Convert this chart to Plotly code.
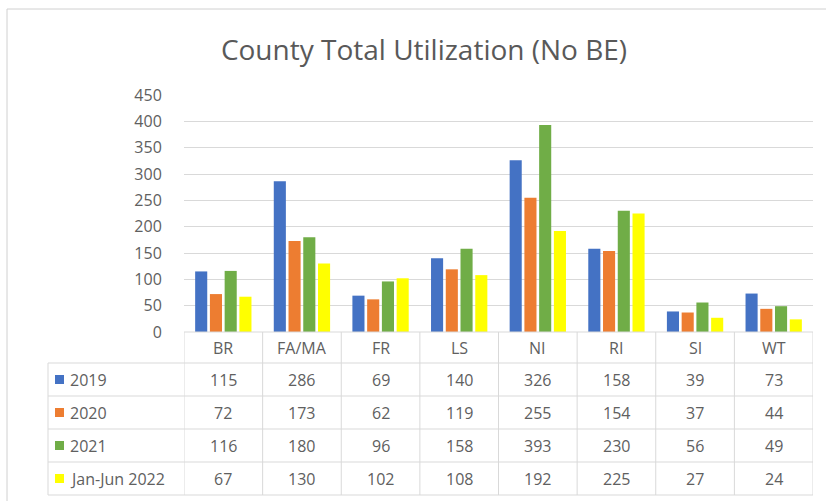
import plotly.graph_objects as go

categories = ["BR", "FA/MA", "FR", "LS", "NI", "RI", "SI", "WT"]
series_names = ["2019", "2020", "2021", "Jan-Jun 2022"]
v2019 = [115, 286, 69, 140, 326, 158, 39, 73]
v2020 = [72, 173, 62, 119, 255, 154, 37, 44]
v2021 = [116, 180, 96, 158, 393, 230, 56, 49]
v2022 = [67, 130, 102, 108, 192, 225, 27, 24]
y_ticks = [0, 50, 100, 150, 200, 250, 300, 350, 400, 450]

series_values = [v2019, v2020, v2021, v2022]
colors = ["#4472C4", "#ED7D31", "#70AD47", "#FFFF00"]

W, H = 826, 501
L, R, T, B = 184, 813, 95, 332  # plot area in pixels
FONT = "Open Sans"
GREY = "#606060"
LINE = "#d9d9d9"
FS = 16


def px(x):
    return (x - L) / (R - L)


def py(y):
    return (B - y) / (B - T)


fig = go.Figure()
for name, vals, col in zip(series_names, series_values, colors):
    fig.add_trace(go.Bar(x=categories, y=vals, name=name, marker_color=col,
                         marker_line_width=0))

shapes = []
annotations = []

# outer chart border
shapes.append(dict(type="line", xref="paper", yref="paper", x0=px(7), x1=px(826),
                   y0=py(9), y1=py(9), line=dict(color="#d0d0d0", width=1)))
shapes.append(dict(type="line", xref="paper", yref="paper", x0=px(7), x1=px(7),
                   y0=py(9), y1=py(501), line=dict(color="#d0d0d0", width=1)))

# data table grid
row_lines = [363, 396, 429, 462, 495]
shapes.append(dict(type="line", xref="paper", yref="paper", x0=0, x1=1,
                   y0=py(332), y1=py(332), line=dict(color=LINE, width=1)))
for yl in row_lines:
    shapes.append(dict(type="line", xref="paper", yref="paper", x0=px(48), x1=1,
                       y0=py(yl), y1=py(yl), line=dict(color=LINE, width=1)))
shapes.append(dict(type="line", xref="paper", yref="paper", x0=px(48), x1=px(48),
                   y0=py(363), y1=py(495), line=dict(color=LINE, width=1)))
for i in range(len(categories) + 1):
    shapes.append(dict(type="line", xref="x", yref="paper", x0=i - 0.5, x1=i - 0.5,
                       y0=py(332), y1=py(495), line=dict(color=LINE, width=1)))

# header labels
for i, c in enumerate(categories):
    annotations.append(dict(xref="x", yref="paper", x=i, y=py(348), text=c,
                            xanchor="center", yanchor="middle", showarrow=False,
                            font=dict(family=FONT, size=FS, color=GREY)))

# rows
for r, (name, vals, col) in enumerate(zip(series_names, series_values, colors)):
    yc = (row_lines[r] + row_lines[r + 1]) / 2
    shapes.append(dict(type="rect", xref="paper", yref="paper", x0=px(55), x1=px(64),
                       y0=py(yc - 4.5), y1=py(yc + 4.5), fillcolor=col, line=dict(width=0)))
    annotations.append(dict(xref="paper", yref="paper", x=px(68), y=py(yc), text=name,
                            xanchor="left", yanchor="middle", showarrow=False,
                            font=dict(family=FONT, size=FS, color=GREY)))
    for i, v in enumerate(vals):
        annotations.append(dict(xref="x", yref="paper", x=i, y=py(yc), text=str(v),
                                xanchor="center", yanchor="middle", showarrow=False,
                                font=dict(family=FONT, size=FS, color=GREY)))

fig.update_layout(
    width=W, height=H,
    margin=dict(l=L, r=W - R, t=T, b=H - B),
    paper_bgcolor="white", plot_bgcolor="white",
    showlegend=False,
    barmode="group", bargap=0.25, bargroupgap=0.18,
    title=dict(text="County Total Utilization (No BE)", xref="container", yref="container",
               x=424 / W, xanchor="center", y=1 - 50 / H, yanchor="middle",
               font=dict(family=FONT, size=28, color="#595959")),
    xaxis=dict(range=[-0.5, len(categories) - 0.5], showticklabels=False, showgrid=False,
               zeroline=False, showline=False, fixedrange=True),
    yaxis=dict(range=[0, 450], tickvals=y_ticks, showgrid=True, gridcolor=LINE, gridwidth=1,
               zeroline=False, showline=False, ticks="outside", ticklen=18,
               tickcolor="rgba(0,0,0,0)",
               tickfont=dict(family=FONT, size=FS, color=GREY)),
    shapes=shapes, annotations=annotations,
)

fig.write_html("out.html", config={"displayModeBar": False},
               post_script="document.body.style.margin='0';")
